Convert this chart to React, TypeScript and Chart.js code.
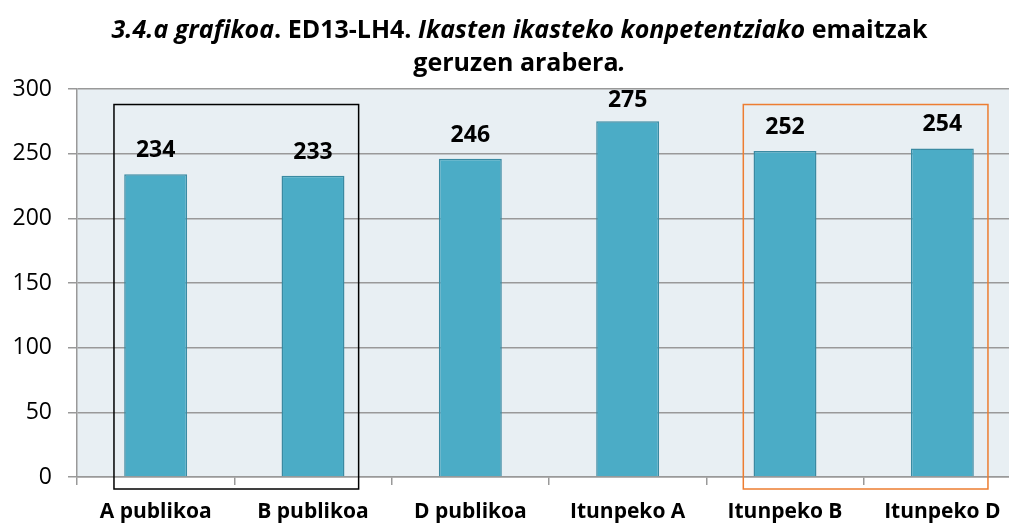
import React, { useEffect, useRef } from "react";
import { Chart, registerables } from "chart.js";

Chart.register(...registerables);

const categories = ["A publikoa", "B publikoa", "D publikoa", "Itunpeko A", "Itunpeko B", "Itunpeko D"];
const scores = [234, 233, 246, 275, 252, 254];
const yTicks = [0, 50, 100, 150, 200, 250, 300];

// highlight boxes: [fromIndex, toIndex, colour]
const boxGroups: [number, number, string][] = [
  [0, 1, "#000000"],
  [4, 5, "#ed7d31"],
];

const FONT = "'Open Sans', 'DejaVu Sans', sans-serif";

const bgPlugin = {
  id: "plotBg",
  beforeDraw(chart: any) {
    const { ctx, chartArea } = chart;
    ctx.save();
    ctx.fillStyle = "#e8eff3";
    ctx.fillRect(chartArea.left, chartArea.top, chartArea.right - chartArea.left, chartArea.bottom - chartArea.top);
    ctx.restore();
  },
};

const labelsPlugin = {
  id: "valueLabels",
  afterDatasetsDraw(chart: any) {
    const { ctx, chartArea } = chart;
    const meta = chart.getDatasetMeta(0);
    ctx.save();
    ctx.font = `bold 23px ${FONT}`;
    ctx.fillStyle = "#000";
    ctx.textAlign = "center";
    ctx.textBaseline = "alphabetic";
    meta.data.forEach((bar: any, i: number) => {
      let y = bar.y - 17;
      const minY = chartArea.top + 18;
      if (y < minY) y = minY;
      ctx.fillText(String(scores[i]), bar.x, y);
    });
    ctx.restore();
  },
};

const boxesPlugin = {
  id: "groupBoxes",
  afterDatasetsDraw(chart: any) {
    const { ctx, scales } = chart;
    const x = scales.x;
    const y = scales.y;
    const step = x.getPixelForValue(1) - x.getPixelForValue(0);
    ctx.save();
    ctx.lineWidth = 1.5;
    boxGroups.forEach(([a, b, color]) => {
      const left = x.getPixelForValue(a) - step * 0.265;
      const right = x.getPixelForValue(b) + step * 0.29;
      const top = y.getPixelForValue(288);
      const bottom = y.getPixelForValue(0) + 12;
      ctx.strokeStyle = color;
      ctx.strokeRect(left, top, right - left, bottom - top);
    });
    ctx.restore();
  },
};

export default function App() {
  const ref = useRef<HTMLCanvasElement>(null);
  useEffect(() => {
    if (!ref.current) return;
    const chart = new Chart(ref.current, {
      type: "bar",
      data: {
        labels: categories,
        datasets: [
          {
            data: scores,
            backgroundColor: "#4bacc6",
            borderColor: "#3a8aa2",
            borderWidth: 1.5,
            barPercentage: 0.8,
            categoryPercentage: 0.5,
          },
        ],
      },
      options: {
        responsive: false,
        animation: false,
        devicePixelRatio: 1,
        layout: { padding: { top: 89, right: 9, left: 0, bottom: 0 } },
        plugins: { legend: { display: false }, tooltip: { enabled: false }, title: { display: false } },
        scales: {
          x: {
            offset: true,
            grid: {
              offset: true,
              drawOnChartArea: false,
              drawTicks: true,
              tickLength: 8,
              color: "#999999",
              lineWidth: 1.5,
            },
            border: { display: true, color: "#999999", width: 1.5 },
            ticks: {
              font: { family: FONT, size: 21, weight: "bold" },
              color: "#000",
              padding: 14,
              maxRotation: 0,
              autoSkip: false,
            },
            afterFit(scale: any) {
              scale.height = 48;
            },
          },
          y: {
            min: 0,
            max: 300,
            afterBuildTicks(scale: any) {
              scale.ticks = yTicks.map((v) => ({ value: v }));
            },
            grid: { color: "#999999", lineWidth: 1.5, tickLength: 9 },
            border: { display: true, color: "#999999", width: 1.5 },
            ticks: {
              font: { family: FONT, size: 23 },
              color: "#000",
              padding: 16,
            },
            afterFit(scale: any) {
              scale.width = 77;
            },
          },
        },
      },
      plugins: [bgPlugin, labelsPlugin, boxesPlugin],
    });
    return () => chart.destroy();
  }, []);

  return (
    <div style={{ position: "absolute", left: 0, top: 0, width: 1009, height: 525, overflow: "hidden", background: "#fff" }}>
      <canvas ref={ref} width={1030} height={525} style={{ position: "absolute", left: 0, top: 0 }} />
      <div
        style={{
          position: "absolute",
          left: 0,
          top: 12,
          width: 1039,
          textAlign: "center",
          fontFamily: FONT,
          fontWeight: "bold",
          fontSize: 25,
          lineHeight: "33px",
          color: "#000",
          whiteSpace: "nowrap",
        }}
      >
        <div>
          <i>3.4.a grafikoa</i>. ED13-LH4. <i>Ikasten ikasteko konpetentziako</i> emaitzak
        </div>
        <div>
          geruzen arabera<i>.</i>
        </div>
      </div>
    </div>
  );
}
